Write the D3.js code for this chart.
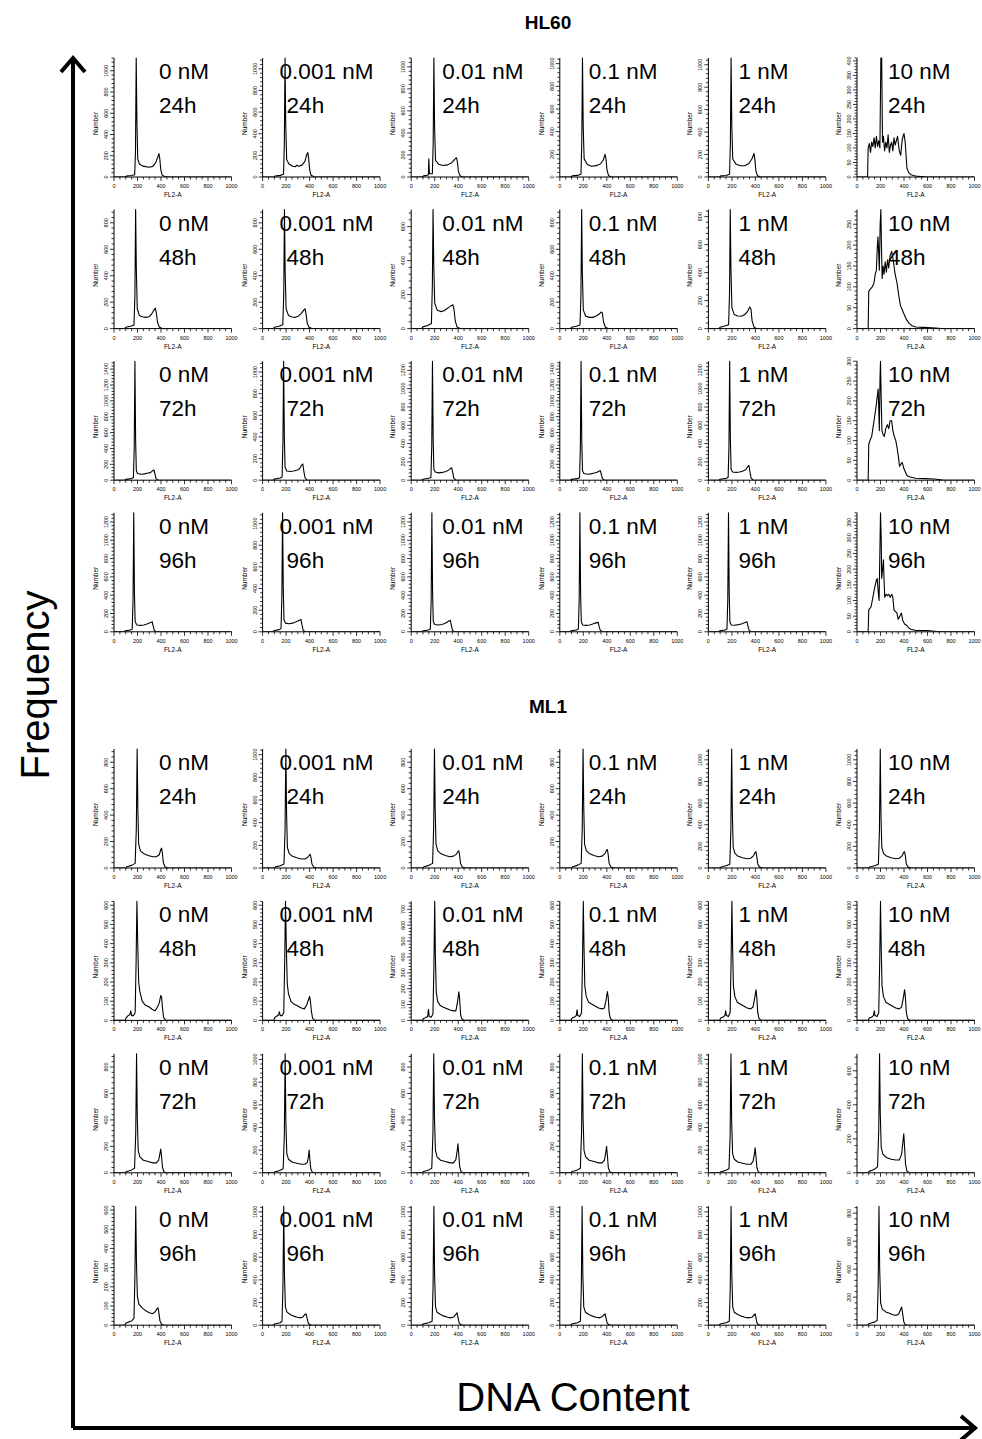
<!DOCTYPE html>
<html lang="en">
<head>
<meta charset="UTF-8">
<title>HL60 / ML1 cell cycle histograms</title>
<script src="https://d3js.org/d3.v7.min.js"></script>
<style>
  body { margin: 0; background: #fff; }
  text { font-family: "Liberation Sans", Arial, Helvetica, sans-serif; }
</style>
</head>
<body>
<svg id="fig" width="982" height="1439"></svg>
<script>
// ---- labels ----
var concLabels = ["0 nM", "0.001 nM", "0.01 nM", "0.1 nM", "1 nM", "10 nM"];
var hourLabels = ["24h", "48h", "72h", "96h"];
var xTicks = [0, 200, 400, 600, 800, 1000];

// ---- y axis top value and labelled tick step, per row (rows = 24h..96h) ----
var hl60Top  = [[1120, 1100, 1080, 1050, 1060, 410],
                [900, 900, 700, 900, 850, 285],
                [1500, 1100, 1300, 1500, 1300, 300],
                [1300, 1100, 1300, 1300, 1300, 380]];
var hl60Step = [[200, 200, 200, 200, 200, 50],
                [200, 200, 200, 200, 200, 50],
                [200, 200, 200, 200, 200, 50],
                [200, 200, 200, 200, 200, 50]];
var ml1Top   = [[900, 1050, 900, 900, 1100, 1100],
                [620, 620, 750, 620, 620, 620],
                [900, 1050, 900, 900, 1050, 700],
                [620, 1050, 1050, 1050, 1050, 850]];
var ml1Step  = [[200, 200, 200, 200, 200, 200],
                [100, 100, 100, 100, 100, 100],
                [200, 200, 200, 200, 200, 200],
                [100, 200, 200, 200, 200, 200]];

// ---- histograms, [FL2-A, count] ----
var hl60_24h = [
  [[0,0],[95,0],[105,8],[150,14],[176,22],[183,250],[189,1120],[195,520],[202,170],[215,125],[240,105],[270,98],[300,92],[330,100],[355,135],[372,185],[382,220],[390,170],[398,70],[410,18],[430,5],[470,0],[1000,0]],
  [[0,0],[95,0],[105,8],[150,15],[178,25],[185,300],[191,1100],[197,480],[205,160],[225,120],[255,100],[280,95],[292,110],[305,100],[335,110],[360,145],[378,215],[385,225],[392,170],[400,70],[412,15],[440,3],[480,0],[1000,0]],
  [[0,0],[95,0],[105,10],[135,15],[146,20],[150,165],[155,30],[180,30],[187,300],[193,1080],[199,450],[207,150],[235,115],[270,105],[310,110],[345,130],[370,160],[385,175],[393,140],[402,50],[415,12],[440,0],[1000,0]],
  [[0,0],[95,0],[105,10],[150,14],[180,25],[187,300],[193,1050],[199,460],[207,160],[235,110],[270,95],[310,100],[345,115],[370,150],[385,200],[393,160],[402,60],[415,12],[440,0],[1000,0]],
  [[0,0],[95,0],[105,10],[150,14],[180,25],[187,300],[193,1060],[199,460],[207,160],[235,115],[270,100],[310,100],[345,120],[370,160],[388,210],[396,150],[404,55],[418,10],[445,0],[1000,0]],
  [[0,0],[90,0],[95,100],[105,115],[115,85],[125,120],[135,105],[145,135],[155,100],[165,140],[175,105],[185,125],[195,100],[203,410],[210,410],[217,120],[225,140],[235,90],[245,120],[255,100],[265,145],[275,85],[285,110],[295,120],[305,90],[315,135],[325,110],[345,140],[360,90],[372,75],[385,130],[400,150],[410,120],[425,30],[440,15],[460,8],[480,5],[520,2],[600,0],[1000,0]]
];
var hl60_48h = [
  [[0,0],[90,0],[100,10],[140,18],[170,28],[178,250],[184,900],[190,450],[198,150],[215,100],[240,90],[270,85],[300,90],[320,110],[340,140],[352,155],[360,120],[370,50],[385,12],[410,0],[1000,0]],
  [[0,0],[90,0],[100,10],[140,18],[172,30],[180,260],[186,900],[192,430],[200,150],[220,100],[250,88],[280,85],[305,95],[330,115],[350,140],[362,150],[370,110],[380,40],[395,10],[420,0],[1000,0]],
  [[0,0],[90,0],[100,10],[140,18],[172,30],[180,250],[186,700],[192,380],[200,150],[220,110],[250,100],[280,105],[300,115],[320,125],[340,135],[355,140],[365,110],[375,45],[390,10],[415,0],[1000,0]],
  [[0,0],[90,0],[100,10],[140,18],[172,28],[180,260],[186,900],[192,420],[200,140],[220,95],[250,85],[280,85],[310,95],[335,110],[352,125],[362,120],[372,50],[388,10],[410,0],[1000,0]],
  [[0,0],[90,0],[100,10],[140,18],[172,28],[180,260],[186,850],[192,420],[200,150],[220,100],[250,90],[280,88],[310,100],[335,125],[352,155],[362,140],[372,55],[388,12],[410,0],[1000,0]],
  [[0,0],[95,0],[100,90],[115,95],[130,100],[145,110],[155,130],[165,140],[172,190],[178,220],[185,180],[190,140],[197,250],[203,285],[208,200],[214,120],[222,150],[230,130],[240,160],[250,135],[260,165],[270,145],[282,175],[295,185],[305,170],[315,150],[325,130],[340,110],[355,80],[370,55],[385,45],[400,35],[420,22],[445,12],[470,7],[500,4],[560,3],[640,2],[720,0],[1000,0]]
];
var hl60_72h = [
  [[0,0],[90,0],[100,10],[150,20],[165,30],[172,400],[178,1500],[184,500],[190,120],[200,85],[230,75],[260,80],[290,90],[310,95],[330,120],[340,130],[348,80],[358,20],[375,0],[1000,0]],
  [[0,0],[90,0],[100,10],[150,20],[166,30],[173,350],[179,1100],[185,400],[191,120],[205,85],[235,80],[265,85],[295,95],[315,105],[332,140],[342,150],[350,90],[360,25],[378,0],[1000,0]],
  [[0,0],[90,0],[100,10],[150,22],[168,30],[175,380],[181,1300],[187,450],[193,120],[205,90],[235,80],[265,85],[295,95],[318,110],[335,130],[345,135],[353,85],[363,22],[380,0],[1000,0]],
  [[0,0],[90,0],[100,10],[150,20],[168,30],[175,420],[181,1500],[187,480],[193,120],[205,85],[235,75],[265,80],[295,90],[318,100],[335,115],[345,120],[353,75],[363,20],[380,0],[1000,0]],
  [[0,0],[90,0],[100,10],[150,20],[168,30],[175,380],[181,1300],[187,450],[193,120],[205,90],[235,85],[265,90],[295,100],[318,115],[335,150],[345,160],[353,95],[363,25],[380,0],[1000,0]],
  [[0,0],[95,0],[100,90],[110,100],[125,110],[135,130],[150,160],[162,185],[172,210],[180,230],[186,170],[190,125],[196,260],[200,300],[205,220],[212,125],[222,115],[232,110],[245,130],[258,140],[270,130],[282,150],[295,150],[305,125],[318,110],[330,100],[342,80],[352,60],[362,35],[372,40],[385,45],[398,30],[410,22],[425,12],[450,8],[500,5],[580,4],[660,3],[740,0],[1000,0]]
];
var hl60_96h = [
  [[0,0],[85,0],[95,10],[140,20],[155,30],[162,350],[168,1300],[174,420],[180,110],[195,75],[225,70],[255,75],[280,85],[300,95],[318,105],[325,110],[333,65],[343,15],[360,0],[1000,0]],
  [[0,0],[85,0],[95,10],[140,20],[157,30],[164,330],[170,1100],[176,400],[182,110],[195,80],[225,75],[255,80],[280,90],[300,100],[318,110],[326,115],[334,70],[345,15],[362,0],[1000,0]],
  [[0,0],[90,0],[100,10],[145,20],[163,30],[170,350],[176,1300],[182,420],[188,110],[200,80],[230,75],[260,80],[285,90],[305,105],[325,120],[333,125],[341,75],[351,18],[368,0],[1000,0]],
  [[0,0],[85,0],[95,10],[140,20],[158,30],[165,350],[171,1300],[177,420],[183,110],[195,75],[225,70],[255,75],[280,85],[300,95],[318,100],[326,105],[334,60],[345,15],[362,0],[1000,0]],
  [[0,0],[85,0],[95,10],[140,20],[158,30],[165,350],[171,1300],[177,420],[183,110],[195,75],[225,72],[255,78],[280,85],[300,95],[318,105],[328,110],[336,65],[347,15],[364,0],[1000,0]],
  [[0,0],[95,0],[100,70],[110,75],[120,80],[135,110],[150,140],[165,165],[172,170],[180,130],[188,100],[195,260],[200,380],[206,300],[210,170],[218,200],[225,230],[230,170],[236,110],[248,120],[260,115],[270,120],[282,110],[295,120],[305,110],[315,70],[325,65],[340,60],[350,40],[365,50],[378,60],[390,35],[405,25],[425,20],[440,12],[460,8],[500,4],[600,4],[700,0],[1000,0]]
];

var ml1_24h = [
  [[0,0],[100,0],[110,10],[150,20],[180,35],[190,300],[197,900],[203,450],[210,180],[225,130],[250,110],[290,95],[330,85],[360,85],[385,100],[398,140],[405,150],[412,110],[420,40],[435,8],[460,0],[1000,0]],
  [[0,0],[100,0],[110,10],[150,20],[182,35],[191,330],[198,1050],[204,480],[211,180],[226,130],[250,105],[290,90],[330,80],[360,80],[385,95],[398,115],[405,120],[412,90],[420,35],[435,8],[460,0],[1000,0]],
  [[0,0],[100,0],[110,10],[150,20],[182,35],[191,300],[198,900],[204,450],[211,180],[226,130],[250,110],[290,95],[330,85],[360,90],[385,105],[398,125],[405,130],[412,95],[420,35],[435,8],[460,0],[1000,0]],
  [[0,0],[100,0],[110,10],[150,20],[182,35],[191,300],[198,900],[204,450],[211,180],[226,130],[250,110],[290,95],[330,85],[360,90],[385,110],[398,135],[405,140],[412,100],[420,35],[435,8],[460,0],[1000,0]],
  [[0,0],[100,0],[110,10],[150,20],[182,35],[191,350],[198,1100],[204,500],[211,190],[226,135],[250,110],[290,95],[330,85],[360,90],[385,115],[398,145],[405,150],[412,105],[420,38],[435,8],[460,0],[1000,0]],
  [[0,0],[100,0],[110,10],[150,20],[182,35],[191,350],[198,1100],[204,500],[211,190],[226,135],[250,110],[290,95],[330,85],[360,90],[385,115],[398,145],[405,150],[412,105],[420,38],[435,8],[460,0],[1000,0]]
];
var ml1_48h = [
  [[0,0],[95,0],[105,15],[120,25],[135,30],[143,50],[150,25],[165,25],[180,40],[188,300],[195,620],[202,400],[210,200],[220,150],[240,100],[265,80],[300,70],[330,55],[350,50],[365,65],[385,90],[398,130],[405,120],[412,70],[422,15],[440,0],[1000,0]],
  [[0,0],[95,0],[105,15],[120,22],[135,28],[143,45],[150,25],[165,25],[180,40],[188,300],[195,620],[202,380],[210,190],[220,140],[240,100],[265,85],[300,75],[330,65],[355,60],[375,80],[392,110],[400,125],[407,100],[415,50],[425,12],[445,0],[1000,0]],
  [[0,0],[95,0],[105,12],[125,18],[140,25],[147,70],[153,25],[170,20],[185,40],[193,330],[200,750],[206,400],[213,180],[225,120],[245,95],[270,85],[300,75],[330,65],[360,60],[380,60],[395,120],[405,180],[412,140],[420,40],[430,10],[450,0],[1000,0]],
  [[0,0],[95,0],[105,12],[125,18],[140,25],[147,55],[153,25],[170,20],[185,40],[193,300],[200,620],[206,380],[213,180],[225,125],[245,95],[270,85],[300,75],[330,65],[360,60],[380,65],[395,110],[405,150],[412,120],[420,40],[430,10],[450,0],[1000,0]],
  [[0,0],[95,0],[105,12],[125,18],[140,25],[147,50],[153,25],[170,20],[185,40],[193,300],[200,620],[206,380],[213,180],[225,125],[245,95],[270,85],[300,75],[330,65],[360,60],[380,70],[395,120],[405,160],[412,120],[420,40],[430,10],[450,0],[1000,0]],
  [[0,0],[95,0],[105,12],[125,18],[140,25],[147,50],[153,25],[170,20],[185,40],[193,300],[200,620],[206,380],[213,180],[225,125],[245,95],[270,85],[300,75],[330,65],[360,60],[380,70],[395,120],[405,160],[412,120],[420,40],[430,10],[450,0],[1000,0]]
];
var ml1_72h = [
  [[0,0],[95,0],[105,10],[130,15],[150,22],[175,35],[185,300],[192,900],[198,420],[206,170],[220,120],[250,95],[290,85],[330,75],[360,75],[380,95],[392,150],[398,180],[405,120],[413,40],[425,8],[445,0],[1000,0]],
  [[0,0],[95,0],[105,10],[130,15],[150,22],[175,35],[185,330],[192,1050],[198,450],[206,170],[220,120],[250,95],[290,85],[330,75],[360,75],[380,90],[390,140],[396,200],[402,120],[410,35],[422,8],[440,0],[1000,0]],
  [[0,0],[95,0],[105,10],[130,15],[150,22],[175,35],[185,300],[192,900],[198,420],[206,170],[220,120],[250,95],[290,85],[330,75],[360,75],[380,100],[392,170],[398,220],[405,140],[413,45],[425,8],[445,0],[1000,0]],
  [[0,0],[95,0],[105,10],[130,15],[150,22],[175,35],[185,300],[192,900],[198,420],[206,170],[220,120],[250,95],[290,85],[330,75],[360,75],[380,95],[392,160],[398,200],[405,130],[413,40],[425,8],[445,0],[1000,0]],
  [[0,0],[95,0],[105,10],[130,15],[150,22],[175,35],[185,330],[192,1050],[198,450],[206,170],[220,120],[250,95],[290,85],[330,75],[360,75],[380,100],[392,170],[398,220],[405,140],[413,45],[425,8],[445,0],[1000,0]],
  [[0,0],[95,0],[105,10],[130,15],[150,22],[175,35],[185,250],[192,700],[198,350],[206,150],[220,110],[250,90],[290,80],[330,75],[360,75],[380,110],[392,190],[398,230],[405,150],[413,50],[425,10],[445,0],[1000,0]]
];
var ml1_96h = [
  [[0,0],[90,0],[100,10],[130,18],[150,22],[170,35],[178,250],[185,620],[191,330],[199,150],[212,110],[240,90],[270,75],[300,65],[330,60],[350,70],[365,85],[375,90],[383,60],[392,20],[405,5],[425,0],[1000,0]],
  [[0,0],[90,0],[100,10],[130,18],[150,22],[165,35],[173,330],[180,1050],[186,450],[194,160],[208,115],[235,95],[265,80],[295,70],[325,65],[345,75],[360,95],[370,100],[378,65],[388,20],[400,5],[420,0],[1000,0]],
  [[0,0],[90,0],[100,10],[130,18],[150,22],[178,35],[186,330],[193,1050],[199,450],[207,160],[220,115],[250,95],[280,80],[310,70],[340,65],[365,75],[380,95],[390,110],[398,70],[408,20],[420,5],[440,0],[1000,0]],
  [[0,0],[90,0],[100,10],[130,18],[150,22],[175,35],[183,330],[190,1050],[196,450],[204,160],[218,115],[248,95],[278,80],[308,70],[338,65],[360,75],[375,90],[385,100],[393,65],[403,20],[415,5],[435,0],[1000,0]],
  [[0,0],[90,0],[100,10],[130,18],[150,22],[178,35],[186,330],[193,1050],[199,450],[207,160],[220,115],[250,95],[280,80],[310,70],[340,65],[370,70],[388,90],[398,100],[405,65],[413,20],[425,5],[445,0],[1000,0]],
  [[0,0],[90,0],[100,10],[130,18],[150,22],[172,35],[180,280],[187,850],[193,400],[201,160],[215,115],[245,95],[275,85],[305,75],[335,70],[355,80],[370,110],[380,130],[388,85],[398,25],[410,5],[430,0],[1000,0]]
];

var blocks = [
  { title: "HL60", titleY: 29, base0: 177, rowGap: 151.6, rows: [hl60_24h, hl60_48h, hl60_72h, hl60_96h], tops: hl60Top, steps: hl60Step },
  { title: "ML1", titleY: 713, base0: 868, rowGap: 152.4, rows: [ml1_24h, ml1_48h, ml1_72h, ml1_96h], tops: ml1Top, steps: ml1Step }
];

// ---- layout ----
var svg = d3.select("#fig");
var colX0 = 114, colGap = 148.6;
var pw = 117.5, ph = 119;
var concDx = [45, 17, 31, 29, 30, 31];
var hourDx = [45, 24, 31, 29, 30, 31];
var panelId = 0;

blocks.forEach(function(b) {
  svg.append("text")
    .attr("x", 548).attr("y", b.titleY)
    .attr("text-anchor", "middle")
    .attr("font-size", 19).attr("font-weight", "bold")
    .text(b.title);

  b.rows.forEach(function(row, r) {
    row.forEach(function(curve, c) {
      var x0 = colX0 + c * colGap;
      var base = b.base0 + r * b.rowGap;
      drawPanel(x0, base - ph, curve, b.tops[r][c], b.steps[r][c], concLabels[c], hourLabels[r], c);
    });
  });
});

function drawPanel(left, top, curve, ymax, step, conc, hour, c) {
  var id = "clip" + (panelId++);
  var g = svg.append("g").attr("transform", "translate(" + left + "," + top + ")");
  var x = d3.scaleLinear().domain([0, 1000]).range([0, pw]);
  var y = d3.scaleLinear().domain([0, ymax]).range([ph, 0]);

  g.append("clipPath").attr("id", id)
    .append("rect").attr("x", -1).attr("y", -2).attr("width", pw + 2).attr("height", ph + 2);

  // x axis: labelled every 200, minor every 50
  var xa = g.append("g").attr("transform", "translate(0," + ph + ")");
  xa.append("line").attr("x1", 0).attr("x2", pw).attr("stroke", "#000").attr("stroke-width", 1);
  xa.selectAll("line.mt").data(d3.range(0, 1001, 50)).join("line")
    .attr("x1", function(d) { return x(d); }).attr("x2", function(d) { return x(d); })
    .attr("y1", 0).attr("y2", function(d) { return d % 200 === 0 ? 4 : 2.5; })
    .attr("stroke", "#000").attr("stroke-width", 0.8);
  xa.selectAll("text").data(xTicks).join("text")
    .attr("x", function(d) { return x(d); }).attr("y", 11)
    .attr("text-anchor", "middle").attr("font-size", 5.5)
    .text(function(d) { return d; });
  g.append("text").attr("x", pw / 2).attr("y", ph + 20)
    .attr("text-anchor", "middle").attr("font-size", 6.5).text("FL2-A");

  // y axis: labelled every step, minor every step/5
  var ya = g.append("g");
  ya.append("line").attr("y1", 0).attr("y2", ph).attr("stroke", "#000").attr("stroke-width", 1);
  var minor = step / 5;
  ya.selectAll("line.mt").data(d3.range(0, ymax + 0.01, minor)).join("line")
    .attr("y1", function(d) { return y(d); }).attr("y2", function(d) { return y(d); })
    .attr("x1", 0).attr("x2", function(d, i) { return i % 5 === 0 ? -4 : -2.5; })
    .attr("stroke", "#000").attr("stroke-width", 0.8);
  ya.selectAll("text").data(d3.range(0, ymax + 0.01, step)).join("text")
    .attr("transform", function(d) { return "translate(-6," + y(d) + ") rotate(-90)"; })
    .attr("text-anchor", "middle").attr("font-size", 5.5)
    .text(function(d) { return d; });
  g.append("text").attr("transform", "translate(-16," + (ph / 2 + 6) + ") rotate(-90)")
    .attr("text-anchor", "middle").attr("font-size", 6.5).text("Number");

  // histogram trace
  var line = d3.line().x(function(d) { return x(d[0]); }).y(function(d) { return y(d[1]); });
  g.append("path").datum(curve)
    .attr("clip-path", "url(#" + id + ")")
    .attr("d", line)
    .attr("fill", "none").attr("stroke", "#000").attr("stroke-width", 1.1)
    .attr("stroke-linejoin", "round");

  g.append("text").attr("x", concDx[c]).attr("y", 21).attr("font-size", 22.5).text(conc);
  g.append("text").attr("x", hourDx[c]).attr("y", 55).attr("font-size", 22.5).text(hour);
}

// ---- big Frequency / DNA Content arrows ----
svg.append("path")
  .attr("d", "M73,1428 L73,58 M61,72 L73,58 L85,72")
  .attr("fill", "none").attr("stroke", "#000").attr("stroke-width", 4);
svg.append("path")
  .attr("d", "M73,1428 L975,1428 M961,1416 L975,1428 L961,1440")
  .attr("fill", "none").attr("stroke", "#000").attr("stroke-width", 4);

svg.append("text")
  .attr("transform", "translate(49,685) rotate(-90)")
  .attr("text-anchor", "middle").attr("font-size", 40).text("Frequency");
svg.append("text")
  .attr("x", 573).attr("y", 1411)
  .attr("text-anchor", "middle").attr("font-size", 40).text("DNA Content");
</script>
</body>
</html>
